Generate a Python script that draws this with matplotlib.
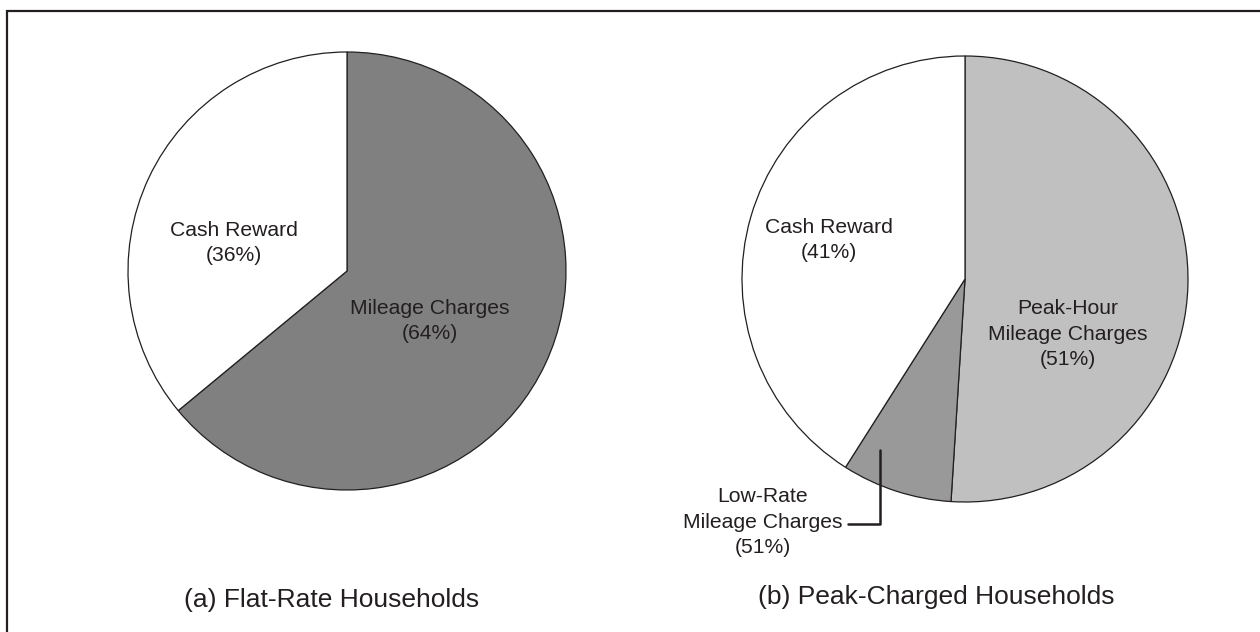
import matplotlib
matplotlib.use('Agg')
import matplotlib.pyplot as plt
from matplotlib.patches import Rectangle

plt.rcParams['font.family'] = ['Liberation Sans', 'DejaVu Sans']

W, H = 1260, 632
INK = '#231f20'

# (a) flat-rate households
flat_labels = ['Mileage Charges', 'Cash Reward']
flat_shares = [64, 36]
flat_colors = ['#808080', 'white']

# (b) peak-charged households
peak_labels = ['Peak-Hour\nMileage Charges', 'Low-Rate\nMileage Charges', 'Cash Reward']
peak_shares = [51, 8, 41]
peak_colors = ['#c0c0c0', '#999999', 'white']
# the original figure prints 51% under the low-rate slice as well
peak_printed = ['51%', '51%', '41%']


def Y(y):
    # picture rows run downwards, data y runs upwards
    return H - y


fig = plt.figure(figsize=(W / 100, H / 100), dpi=100)
ax = fig.add_axes([0, 0, 1, 1])

wp = dict(edgecolor=INK, linewidth=0.9)
ax.pie(flat_shares, colors=flat_colors, startangle=90, counterclock=False,
       center=(347, Y(271)), radius=219, wedgeprops=wp)
ax.pie(peak_shares, colors=peak_colors, startangle=90, counterclock=False,
       center=(965, Y(279)), radius=223, wedgeprops=wp)

ax.set_xlim(0, W)
ax.set_ylim(0, H)
ax.set_aspect('equal', adjustable='box')
ax.axis('off')

txt = dict(ha='center', va='center', fontsize=15.2, color=INK, linespacing=1.42)
ax.text(234, Y(243), f'{flat_labels[1]}\n({flat_shares[1]}%)', **txt)
ax.text(430, Y(321), f'{flat_labels[0]}\n({flat_shares[0]}%)', **txt)
ax.text(829, Y(240), f'{peak_labels[2]}\n({peak_printed[2]})', **txt)
ax.text(1068, Y(334), f'{peak_labels[0]}\n({peak_printed[0]})', **txt)
ax.text(763, Y(522), f'{peak_labels[1]}\n({peak_printed[1]})', **txt)

# leader from the low-rate label into its slice
ax.annotate('', xy=(880, Y(450)), xytext=(848, Y(524)),
            arrowprops=dict(arrowstyle='-', color=INK, lw=1.8,
                            shrinkA=0, shrinkB=0,
                            connectionstyle='angle,angleA=0,angleB=90,rad=0'))

ax.text(332, Y(600), '(a) Flat-Rate Households', ha='center', va='center',
        fontsize=19, color=INK)
ax.text(936, Y(597), '(b) Peak-Charged Households', ha='center', va='center',
        fontsize=19, color=INK)

# outer frame, runs off the right and bottom edges like the source
ax.add_patch(Rectangle((7, Y(H + 20)), W + 20, H + 20 - 11, fill=False,
                       edgecolor=INK, linewidth=1.6, clip_on=False))

fig.savefig('out.png', dpi=100, facecolor='white')
